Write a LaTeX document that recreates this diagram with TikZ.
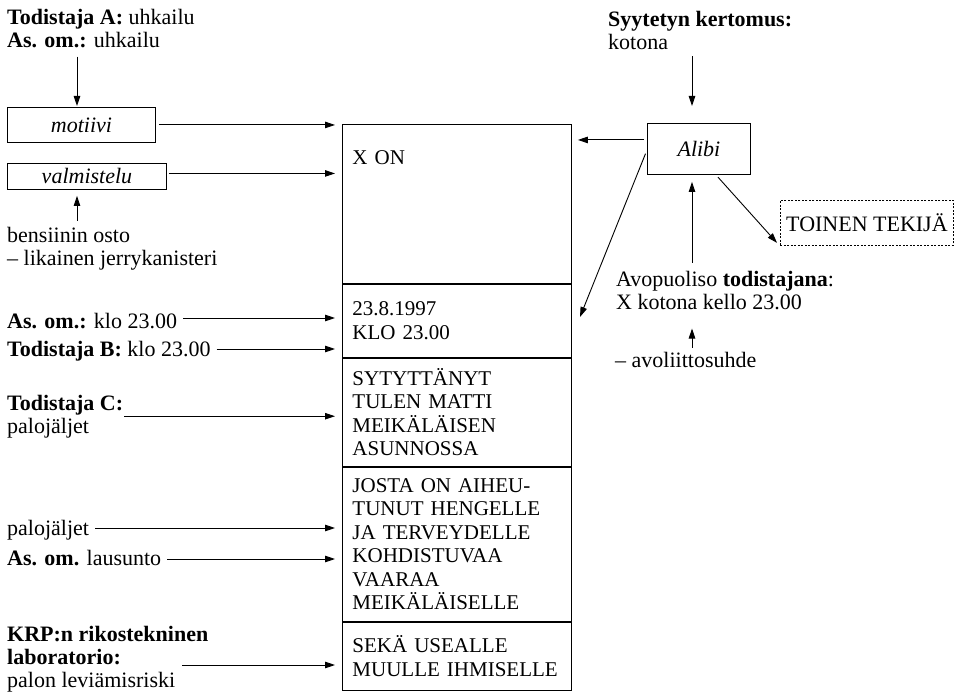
\documentclass[tikz,border=0pt]{standalone}
\usepackage{fontspec}
\setmainfont{Liberation Serif}
\usetikzlibrary{positioning, arrows.meta}

\tikzset{
    txt/.style={font=\fontsize{22}{23}\selectfont, inner sep=0pt, align=left},
    lbox/.style={draw, line width=0.9pt, inner sep=0pt, font=\fontsize{22}{23}\selectfont\itshape},
    tbox/.style={draw, line width=0.9pt, inner sep=0pt, dash pattern=on 2pt off 1.5pt, font=\fontsize{22}{24}\selectfont},
    cell/.style={draw, line width=0.9pt, text width=209pt, inner xsep=10pt, inner ysep=4pt, align=left, font=\fontsize{21}{23.5}\selectfont},
    arr/.style={-{Triangle[length=10pt, width=6.5pt]}, line width=0.9pt}
}

\begin{document}
\begin{tikzpicture}[x=1pt, y=-1pt]
            \useasboundingbox (0,0) rectangle (955,692);

            % the charge, cell by cell
            \node[cell, text height=14pt, text depth=93pt, inner ysep=26pt, anchor=north west] (c1) at (342,124) {X ON};
            \node[cell, minimum height=73pt, below=0pt of c1] (c2) {23.8.1997\\KLO 23.00};
            \node[cell, minimum height=108pt, below=0pt of c2] (c3) {SYTYTTÄNYT\\TULEN MATTI\\MEIKÄLÄISEN\\ASUNNOSSA};
            \node[cell, minimum height=154pt, below=0pt of c3] (c4) {JOSTA ON AIHEU-\\TUNUT HENGELLE\\JA TERVEYDELLE\\KOHDISTUVAA\\VAARAA\\MEIKÄLÄISELLE};
            \node[cell, minimum height=68pt, below=0pt of c4] (c5) {SEKÄ USEALLE\\\mbox{MUULLE IHMISELLE}};

            % left column (base = last line)
            \coordinate (ax) at (77,0);
            \node[txt, anchor=base west] (tA) at (7,48) {\textbf{Todistaja A:} uhkailu\\\textbf{As. om.:} uhkailu};
            \node[lbox, minimum width=148pt, minimum height=35pt, anchor=north west] (motiivi) at (7,107) {motiivi};
            \node[lbox, minimum width=159pt, minimum height=26pt, anchor=north west] (valm) at (7,163) {valmistelu};
            \node[txt, anchor=base west] (bens) at (7,266) {bensiinin osto\\– likainen jerrykanisteri};
            \node[txt, anchor=base west] (asom1) at (7,328) {\textbf{As. om.:} klo 23.00};
            \node[txt, anchor=base west] (tB) at (7,356) {\textbf{Todistaja B:} klo 23.00};
            \node[txt, anchor=base west] (tC) at (7,433) {\textbf{Todistaja C:}\\palojäljet};
            \node[txt, anchor=base west] (palo) at (7,535) {palojäljet};
            \node[txt, anchor=base west] (asom2) at (7,565) {\textbf{As. om.} lausunto};
            \node[txt, anchor=base west] (krp) at (7,687) {\textbf{KRP:n rikostekninen}\\\textbf{laboratorio:}\\palon leviämisriski};
            \coordinate (krpout) at (182,665);

            \draw[arr, shorten <=8pt, shorten >=1pt] (tA.south -| ax) -- (motiivi.north -| ax);
            \draw[arr, shorten <=3pt, shorten >=7pt] (motiivi.east) -- (motiivi.east -| c1.west);
            \draw[arr, shorten <=2pt, shorten >=7pt] ([yshift=3pt]valm.east) -- ([yshift=3pt]valm.east -| c1.west);
            \draw[arr, shorten <=7pt, shorten >=6pt] (bens.north -| ax) -- (valm.south -| ax);
            \draw[arr, shorten <=6pt, shorten >=7pt] ([yshift=10pt]asom1.base east) -- ([yshift=10pt]asom1.base east -| c2.west);
            \draw[arr, shorten <=6pt, shorten >=7pt] ([yshift=7pt]tB.base east) -- ([yshift=7pt]tB.base east -| c2.west);
            \draw[arr, shorten <=1pt, shorten >=7pt] (tC.east) -- (tC.east -| c3.west);
            \draw[arr, shorten <=6pt, shorten >=7pt] ([yshift=7pt]palo.base east) -- ([yshift=7pt]palo.base east -| c4.west);
            \draw[arr, shorten <=6pt, shorten >=7pt] ([yshift=6pt]asom2.base east) -- ([yshift=6pt]asom2.base east -| c4.west);
            \draw[arr, shorten >=7pt] (krpout) -- (krpout -| c5.west);

            % right column
            \coordinate (bx) at (692,0);
            \coordinate (alibiout) at (580,317);
            \node[txt, anchor=base west] (syyt) at (608,50) {\textbf{Syytetyn kertomus:}\\kotona};
            \node[lbox, minimum width=103pt, minimum height=51pt, anchor=north west] (alibi) at (647,123) {Alibi};
            \node[tbox, minimum width=173pt, minimum height=45pt, anchor=north west] (toinen) at (780,200) {TOINEN TEKIJÄ};
            \node[txt, anchor=base west] (avo) at (616,310) {Avopuoliso \textbf{todistajana}:\\X kotona kello 23.00};
            \node[txt, anchor=base west] (avol) at (615,367) {– avoliittosuhde};

            \draw[arr, shorten <=6pt, shorten >=17pt] (syyt.south -| bx) -- (alibi.north -| bx);
            \draw[arr, shorten <=3pt, shorten >=6pt] ([yshift=9pt]alibi.west) -- ([yshift=9pt]alibi.west -| c1.east);
            \draw[arr, shorten <=4pt] ([yshift=-1pt]alibi.west) -- (alibiout);
            \draw[arr, shorten <=9pt, shorten >=7pt] (avo.north -| bx) -- (alibi.south -| bx);
            \draw[arr, shorten <=3pt] ([xshift=17pt]alibi.south) -- ([xshift=-3pt, yshift=3pt]toinen.south west);
            \draw[arr, shorten <=4pt, shorten >=18pt] (avol.north -| bx) -- (avo.south -| bx);
\end{tikzpicture}
\end{document}
